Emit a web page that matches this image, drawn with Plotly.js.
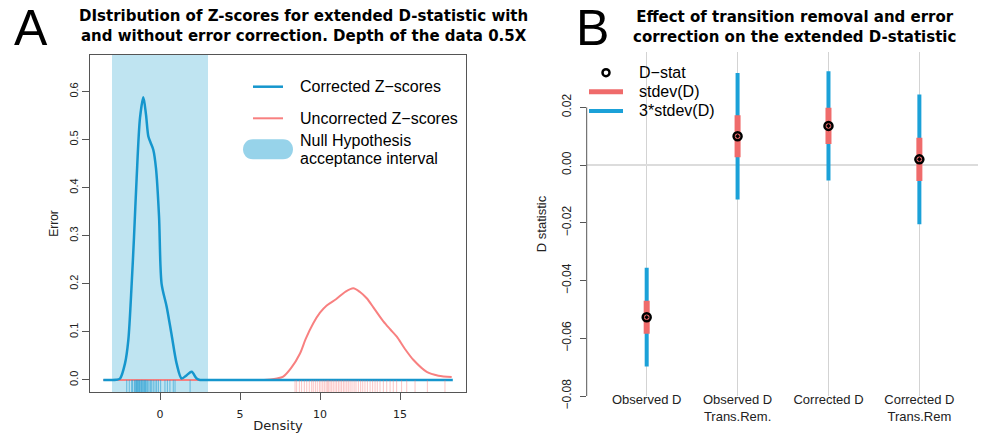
<!DOCTYPE html>
<html>
<head>
<meta charset="utf-8">
<script src="https://cdn.plot.ly/plotly-3.0.1.min.js"></script>
<style>html,body{margin:0;padding:0;background:#fff;}#chart{width:988px;height:436px;}</style>
</head>
<body>
<div id="chart"></div>
<script>
// ---------- Panel A data ----------
const nullInterval = [-3, 3];
const corrDensX = [-3.54, -3.0, -2.75, -2.5, -2.19, -1.98, -1.77, -1.625, -1.46, -1.25, -1.04, -0.875, -0.73, -0.58, -0.42, -0.25, -0.06, 0.1, 0.42, 0.73, 1.04, 1.35, 1.67, 1.98, 2.29, 2.5, 3.0, 6.0, 10.0, 14.0, 18.3];
const corrDensY = [0, 0, 0.0005, 0.003, 0.034, 0.083, 0.2, 0.297, 0.42, 0.545, 0.588, 0.552, 0.507, 0.493, 0.479, 0.44, 0.34, 0.2, 0.152, 0.093, 0.034, 0.003, 0.01, 0.017, 0.003, 0, 0, 0, 0, 0, 0];
const uncDensX = [-3.54, 0, 5, 6.5, 6.9, 7.3, 7.7, 8.2, 8.75, 9.1, 9.58, 10.0, 10.42, 11.0, 11.6, 12.08, 12.5, 12.92, 13.4, 13.96, 14.4, 14.8, 15.3, 15.83, 16.67, 17.4, 18.23];
const uncDensY = [0, 0, 0, 0, 0.001, 0.003, 0.007, 0.025, 0.055, 0.085, 0.118, 0.14, 0.155, 0.168, 0.184, 0.191, 0.183, 0.17, 0.148, 0.122, 0.105, 0.09, 0.065, 0.042, 0.017, 0.009, 0.006];
const corrZ = [-2.08, -1.92, -1.77, -1.71, -1.6, -1.55, -1.5, -1.46, -1.42, -1.38, -1.33, -1.29, -1.25, -1.19, -1.15, -1.1, -1.04, -0.98, -0.94, -0.9, -0.83, -0.77, -0.69, -0.6, -0.52, -0.42, -0.31, -0.21, -0.1, 0.04, 0.31, 0.46, 0.62, 0.83, 0.94, 1.88];
const uncZ = [8.44, 8.54, 8.71, 8.85, 9.02, 9.17, 9.33, 9.48, 9.58, 9.71, 9.83, 9.96, 10.06, 10.17, 10.27, 10.38, 10.46, 10.54, 10.63, 10.73, 10.83, 10.94, 11.04, 11.15, 11.25, 11.35, 11.46, 11.56, 11.67, 11.77, 11.88, 12.0, 12.13, 12.25, 12.4, 12.54, 12.67, 12.81, 12.96, 13.13, 13.29, 13.44, 13.58, 13.75, 13.96, 14.17, 14.38, 14.58, 14.79, 15.1, 15.42, 15.94, 16.71, 17.81];
const aXTicks = [0, 5, 10, 15];
const aYTicks = [0, 0.1, 0.2, 0.3, 0.4, 0.5, 0.6];

// ---------- Panel B data ----------
const categories = ["Observed D", "Observed D<br>Trans.Rem.", "Corrected D", "Corrected D<br>Trans.Rem"];
const dStat = [-0.0527, 0.0100, 0.0136, 0.0020];
const dStdev = [0.0057, 0.0073, 0.0063, 0.0075];
const bYTicks = [-0.08, -0.06, -0.04, -0.02, 0.00, 0.02];

// ---------- colours ----------
const cBlue = '#1596cd', cRed = '#f88080';
const bBlue = '#1ba1d8', bRed = '#ef6b6b';
const W = 988, H = 436;
const px = x => x / W, py = y => 1 - y / H;
const rugY = -0.0145;

const traces = [
  {x: uncDensX, y: uncDensY, xaxis: 'x', yaxis: 'y', mode: 'lines', line: {color: cRed, width: 2, shape: 'spline', smoothing: 0.8}, showlegend: false, hoverinfo: 'skip'},
  {x: corrDensX, y: corrDensY, xaxis: 'x', yaxis: 'y', mode: 'lines', line: {color: cBlue, width: 2.5, shape: 'spline', smoothing: 0.8}, showlegend: false, hoverinfo: 'skip'},
  {x: corrZ, y: corrZ.map(() => rugY), xaxis: 'x', yaxis: 'y', mode: 'markers', marker: {symbol: 'line-ns-open', size: 10, color: 'rgba(21,150,205,0.55)', line: {color: 'rgba(21,150,205,0.55)', width: 1}}, showlegend: false, hoverinfo: 'skip'},
  {x: uncZ, y: uncZ.map(() => rugY), xaxis: 'x', yaxis: 'y', mode: 'markers', marker: {symbol: 'line-ns-open', size: 10, color: 'rgba(248,110,110,0.4)', line: {color: 'rgba(248,110,110,0.4)', width: 1}}, showlegend: false, hoverinfo: 'skip'},
  {x: categories, y: dStat, xaxis: 'x2', yaxis: 'y2', mode: 'markers', marker: {size: 1, color: 'rgba(0,0,0,0)'},
   error_y: {type: 'data', array: dStdev.map(s => 3 * s), color: bBlue, thickness: 4, width: 0}, showlegend: false, hoverinfo: 'skip'},
  {x: categories, y: dStat, xaxis: 'x2', yaxis: 'y2', mode: 'markers', marker: {size: 1, color: 'rgba(0,0,0,0)'},
   error_y: {type: 'data', array: dStdev, color: bRed, thickness: 6, width: 0}, showlegend: false, hoverinfo: 'skip'},
  {x: categories, y: dStat, xaxis: 'x2', yaxis: 'y2', mode: 'markers', marker: {symbol: 'circle-open-dot', size: 8, color: '#000', line: {width: 2.5, color: '#000'}}, showlegend: false, hoverinfo: 'skip'}
];

const sans = 'Liberation Sans, Arial, sans-serif';
const dejavu = 'DejaVu Sans, sans-serif';
const ann = (x, y, text, size, opts) => Object.assign({xref: 'paper', yref: 'paper', x: px(x), y: py(y), text: text, showarrow: false, xanchor: 'left', yanchor: 'middle', font: {family: sans, size: size, color: '#000'}}, opts || {});
const tfont = {family: dejavu, size: 15, color: '#000'};

const layout = {
  width: W, height: H,
  margin: {l: 0, r: 0, t: 0, b: 0},
  paper_bgcolor: '#fff', plot_bgcolor: 'rgba(0,0,0,0)',
  showlegend: false,
  xaxis: {domain: [px(90), px(466)], range: [-4.375, 19.125], tickvals: aXTicks, ticks: 'outside', ticklen: 7, tickcolor: '#555',
    showline: true, mirror: true, linecolor: '#555', linewidth: 1, showgrid: false, zeroline: false,
    tickfont: {family: dejavu, size: 11, color: '#222'}, ticklabelstandoff: 5,
    title: {text: 'Density', font: {family: dejavu, size: 13, color: '#222'}, standoff: 0}},
  yaxis: {domain: [py(392), py(55)], range: [-0.025, 0.676], tickvals: aYTicks, tickformat: '.1f', tickangle: -90, ticks: 'outside', ticklen: 7, tickcolor: '#555',
    showline: true, mirror: true, linecolor: '#555', linewidth: 1, showgrid: false, zeroline: false,
    tickfont: {family: sans, size: 11, color: '#222'},
    title: {text: 'Error', font: {family: sans, size: 12, color: '#222'}, standoff: 6}},
  xaxis2: {anchor: 'y2', domain: [px(586.7), px(978)], type: 'category', range: [-0.66, 3.645], showgrid: true, gridcolor: '#d3d3d3', gridwidth: 1,
    ticks: '', showline: false, zeroline: false, tickfont: {family: sans, size: 13, color: '#222'}, ticklabelstandoff: -6},
  yaxis2: {anchor: 'x2', domain: [py(396), py(52)], range: [-0.08, 0.0392], tickvals: bYTicks, tickformat: '.2f', tickangle: -90, ticks: 'outside', ticklen: 6, tickcolor: '#555',
    showgrid: false, zeroline: true, zerolinecolor: '#dcdcdc', zerolinewidth: 1.5, showline: false,
    tickfont: {family: sans, size: 12, color: '#222'}, ticklabelstandoff: 4,
    title: {text: 'D statistic', font: {family: sans, size: 13, color: '#222'}, standoff: 10}},
  shapes: [
    {type: 'rect', xref: 'x', yref: 'y domain', x0: nullInterval[0], x1: nullInterval[1], y0: 0, y1: 1, fillcolor: '#bfe4f1', line: {width: 0}, layer: 'below'},
    {type: 'line', xref: 'x2 domain', yref: 'y2', x0: 0, x1: 0, y0: bYTicks[0], y1: bYTicks[bYTicks.length - 1], line: {color: '#555', width: 1}},
    // legend A
    {type: 'line', xref: 'paper', yref: 'paper', x0: px(253), x1: px(283), y0: py(86.7), y1: py(86.7), line: {color: cBlue, width: 2.5}},
    {type: 'line', xref: 'paper', yref: 'paper', x0: px(253), x1: px(283), y0: py(118.3), y1: py(118.3), line: {color: cRed, width: 2}},
    {type: 'path', xref: 'paper', yref: 'paper', xsizemode: 'pixel', ysizemode: 'pixel', xanchor: px(268), yanchor: py(149.3),
     path: 'M-15,-10 L15,-10 C28.3,-10 28.3,10 15,10 L-15,10 C-28.3,10 -28.3,-10 -15,-10 Z', fillcolor: '#97d3ea', line: {width: 0}},
    // legend B
    {type: 'circle', xref: 'paper', yref: 'paper', xsizemode: 'pixel', ysizemode: 'pixel', xanchor: px(606), yanchor: py(72.7), x0: -3.5, x1: 3.5, y0: -3.5, y1: 3.5, line: {color: '#000', width: 2.5}},
    {type: 'line', xref: 'paper', yref: 'paper', x0: px(589), x1: px(623), y0: py(91.7), y1: py(91.7), line: {color: bRed, width: 5}},
    {type: 'line', xref: 'paper', yref: 'paper', x0: px(589), x1: px(623), y0: py(111), y1: py(111), line: {color: bBlue, width: 4}}
  ],
  annotations: [
    ann(31, 28, 'A', 50, {xanchor: 'center'}),
    ann(592, 28, 'B', 50, {xanchor: 'center'}),
    ann(303, 26, '<b>DIstribution of Z-scores for extended D-statistic with<br>and without error correction. Depth of the data 0.5X</b>', 15, {xanchor: 'center', align: 'center', font: tfont}),
    ann(794, 26.5, '<b>Effect of transition removal and error<br>correction on the extended D-statistic</b>', 15, {xanchor: 'center', align: 'center', font: tfont}),
    ann(298, 86.7, 'Corrected Z\u2212scores', 16),
    ann(298, 118.3, 'Uncorrected Z\u2212scores', 16),
    ann(298, 140, 'Null Hypothesis', 16),
    ann(298, 158.3, 'acceptance interval', 16),
    ann(637, 72.7, 'D\u2212stat', 16),
    ann(637, 91.7, 'stdev(D)', 16),
    ann(637, 111, '3*stdev(D)', 16)
  ]
};

Plotly.newPlot('chart', traces, layout, {staticPlot: true, displayModeBar: false});
</script>
</body>
</html>
